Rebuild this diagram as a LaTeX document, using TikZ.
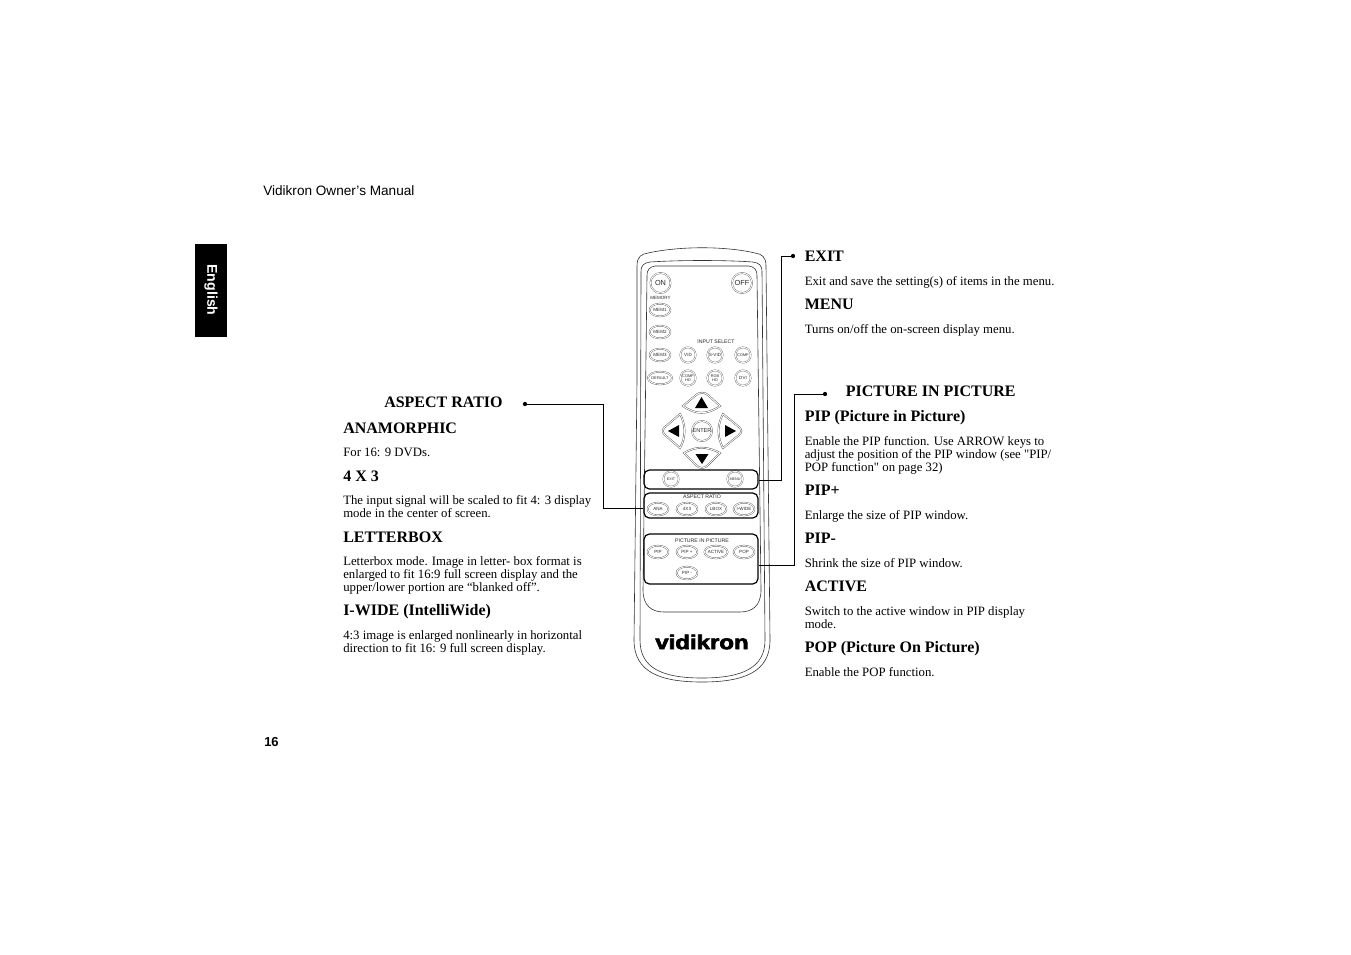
\documentclass[tikz,border=0pt]{standalone}
\usepackage{fontspec}
\setmainfont{Liberation Serif}
\setsansfont{Liberation Sans}
\newfontfamily\straightfont{Liberation Serif}
\newfontfamily\logofont{Liberation Sans}[BoldFeatures={FakeBold=3}]
\usetikzlibrary{positioning,shapes.geometric}

\begin{document}
\begin{tikzpicture}[x=0.75pt, y=-0.75pt,
  head/.style={anchor=base west, inner sep=0pt, font=\fontsize{12}{13}\selectfont\bfseries},
  body/.style={anchor=base west, inner sep=0pt, align=left, font=\fontsize{9.58}{9.75}\selectfont},
  small/.style={inner sep=0pt, font=\sffamily\fontsize{3.4}{3.6}\selectfont, text=black!85, align=center},
  btn/.style={small, ellipse, draw=black!70, double, double distance=0.7pt, line width=0.25pt, minimum width=15.5pt, minimum height=9.5pt},
  rbtn/.style={small, circle, draw=black!70, double, double distance=0.7pt, line width=0.25pt, minimum size=11.5pt},
  keyshape/.style={draw=black!70, double, double distance=0.7pt, line width=0.3pt},
  panel/.style={draw=black, line width=0.9pt, rounded corners=4pt},
  shell/.style={draw=black!80, line width=0.45pt},
  lead/.style={draw=black, line width=0.75pt},
  bullet/.style={circle, fill=black, inner sep=0pt, minimum size=3.2pt}]
\useasboundingbox (0,0) rectangle (1351,954);
% page furniture
\node[anchor=base west, inner sep=0pt, font=\sffamily\fontsize{10.2}{11}\selectfont] (title) at (263,195) {Vidikron Owner’s Manual};
\node[anchor=base west, inner sep=0pt, font=\sffamily\bfseries\fontsize{9.75}{10}\selectfont] (page) at (264,746) {16};
\node[fill=black, minimum width=24pt, minimum height=69.75pt, inner sep=0pt] (tab) at (211,290.5) {};
\node[rotate=-90, text=white, inner sep=0pt, font=\sffamily\bfseries\fontsize{10.6}{11}\selectfont] (lang) at (211,290) {English};
% remote body
\draw[shell] (637,380) -- (637,266) .. controls (637,256) and (642,254) .. (648,253) .. controls (680,246) and (725,246) .. (755,253) .. controls (762,254) and (766,257) .. (766,266) -- (770,640) .. controls (770,672) and (744,682) .. (702,682) .. controls (660,682) and (634,672) .. (634,640) -- cycle;
\draw[shell] (641,272) .. controls (641,265) and (644,263) .. (650,262) .. controls (680,260) and (725,260) .. (753,262) .. controls (759,263) and (762,265) .. (762,272) -- (765,640) .. controls (765,668) and (742,678) .. (702,678) .. controls (662,678) and (640,668) .. (640,640) -- cycle;
\draw[shell] (647,276) .. controls (647,269) and (650,267) .. (655,266) -- (749,266) .. controls (754,267) and (757,269) .. (757,276) -- (761,590) .. controls (761,606) and (752,612) .. (740,612) -- (664,612) .. controls (652,612) and (643,606) .. (643,590) -- cycle;
% buttons
\node[rbtn, minimum size=15pt, font=\sffamily\fontsize{5.5}{6}\selectfont] (bon) at (660.5,283) {ON};
\node[rbtn, minimum size=15pt, font=\sffamily\fontsize{5.5}{6}\selectfont] (boff) at (742,283) {OFF};
\node[small] (lmem) at (660.5,298) {MEMORY};
\node[small, font=\sffamily\fontsize{3.9}{4}\selectfont] (linput) at (716,342) {INPUT SELECT};
\foreach \name/\x/\y/\txt in {mema/660/310/MEM1, memb/660/332/MEM2, memc/660/355/MEM3,
    ana/658/509/ANA, fxt/687/509/4X3, lbox/716/509/LBOX, iwide/744/509/I-WIDE,
    pip/658/552/PIP, pipp/687/552/PIP +, actv/716/552/ACTIVE, pop/744/552/POP, pipm/687/573/PIP -}
  \node[btn] (\name) at (\x,\y) {\txt};
\node[btn, font=\sffamily\fontsize{2.9}{3}\selectfont] (dflt) at (660,378) {DEFAULT};
\foreach \name/\x/\y/\txt in {vid/688/355/VID, svid/715/355/S-VID, dvi/743/378/DVI}
  \node[rbtn] (\name) at (\x,\y) {\txt};
\foreach \name/\x/\y/\txt in {comp/743/355/COMP, comph/688/378/{COMP\\HD}, rgbh/715/378/{RGB\\HD}}
  \node[rbtn, font=\sffamily\fontsize{2.9}{3.2}\selectfont] (\name) at (\x,\y) {\txt};
\foreach \name/\x/\txt in {bexit/671/EXIT, bmenu/735/MENU}
  \node[rbtn, font=\sffamily\fontsize{2.8}{3}\selectfont] (\name) at (\x,479) {\txt};
\node[rbtn, minimum size=15pt, font=\sffamily\fontsize{4.2}{4.5}\selectfont] (enter) at (702,431) {ENTER};
% arrow keys
\draw[keyshape] (683,406) -- (696,395) .. controls (700,392) and (704,392) .. (708,395) -- (720,406) .. controls (707,415) and (696,415) .. (683,406) -- cycle;
\draw[keyshape] (684,453) .. controls (696,446) and (707,446) .. (720,453) -- (708,465) .. controls (704,469) and (700,469) .. (696,465) -- cycle;
\draw[keyshape] (680,414) -- (665,427) .. controls (662,430) and (662,432) .. (665,435) -- (680,448) .. controls (686,437) and (686,425) .. (680,414) -- cycle;
\draw[keyshape] (723,414) -- (739,427) .. controls (742,430) and (742,432) .. (739,435) -- (723,448) .. controls (717,437) and (717,425) .. (723,414) -- cycle;
\fill (701.5,397) -- (708,408) -- (695,408) -- cycle;
\fill (702,464) -- (708.5,454) -- (695.5,454) -- cycle;
\fill (668,431) -- (679,425) -- (679,437) -- cycle;
\fill (736,431) -- (725,425) -- (725,437) -- cycle;
% panels on the remote
\node[panel, minimum width=85.5pt, minimum height=14.25pt, inner sep=0pt] (pmenu) at (701,479.5) {};
\node[panel, minimum width=85.5pt, minimum height=18.75pt, inner sep=0pt] (paspect) at (701,505.5) {};
\node[panel, minimum width=85.5pt, minimum height=37.5pt, inner sep=0pt] (ppip) at (701,559) {};
\node[small, font=\sffamily\fontsize{3.9}{4}\selectfont] (laspect) at (702,497) {ASPECT RATIO};
\node[small, font=\sffamily\fontsize{3.9}{4}\selectfont] (lpip) at (702,541) {PICTURE IN PICTURE};
\node[inner sep=0pt, xscale=1.2, font=\logofont\bfseries\fontsize{15}{16}\selectfont] (logo) at (702,642) {vidikron};
% callouts
\node[bullet] (dexit) at (793,256) {};
\node[bullet] (dpip) at (825,394) {};
\node[bullet] (daspect) at (525,404) {};
\coordinate (kexit) at (781,256);
\coordinate (kpip) at (794,394);
\coordinate (kaspect) at (603.5,404);
\draw[lead] (dexit) -- (kexit) |- ([yshift=-0.4pt]pmenu.east);
\draw[lead] (dpip) -- (kpip) |- ([yshift=-4.5pt]ppip.east);
\draw[lead] (daspect) -- (kaspect) |- ([yshift=-2.6pt]paspect.west);
% left column
\node[head] (taspect) at (384,407) {ASPECT RATIO};
\node[head] (tana) at (343,433) {ANAMORPHIC};
\node[body] (xana) at (343,456) {For 16: 9 DVDs.};
\node[head] (tfxt) at (343,481) {4 X 3};
\node[body] (xfxt) at (343,517) {The input signal will be scaled to fit 4: 3 display\\mode in the center of screen.};
\node[head] (tlbox) at (343,542) {LETTERBOX};
\node[body] (xlbox) at (343,591) {Letterbox mode. Image in letter- box format is\\enlarged to fit 16:9 full screen display and the\\upper/lower portion are “blanked off”.};
\node[head] (twide) at (343,615) {I-WIDE (IntelliWide)};
\node[body] (xwide) at (343,652) {4:3 image is enlarged nonlinearly in horizontal\\direction to fit 16: 9 full screen display.};
% right column
\node[head] (texit) at (804.5,261) {EXIT};
\node[body] (xexit) at (804.5,285) {Exit and save the setting(s) of items in the menu.};
\node[head] (tmenu) at (804.5,309) {MENU};
\node[body] (xmenu) at (804.5,333) {Turns on/off the on-screen display menu.};
\node[head] (tpicture) at (845.5,396) {PICTURE IN PICTURE};
\node[head] (tpip) at (804.5,421) {PIP (Picture in Picture)};
\node[body] (xpip) at (804.5,471) {Enable the PIP function. Use ARROW keys to\\adjust the position of the PIP window (see {\straightfont "}PIP/\\POP function{\straightfont "} on page 32)};
\node[head] (tpipp) at (804.5,495) {PIP+};
\node[body] (xpipp) at (804.5,519) {Enlarge the size of PIP window.};
\node[head] (tpipm) at (804.5,543) {PIP-};
\node[body] (xpipm) at (804.5,567) {Shrink the size of PIP window.};
\node[head] (tactv) at (804.5,591) {ACTIVE};
\node[body] (xactv) at (804.5,628) {Switch to the active window in PIP display\\mode.};
\node[head] (tpop) at (804.5,652) {POP (Picture On Picture)};
\node[body] (xpop) at (804.5,676) {Enable the POP function.};
\end{tikzpicture}
\end{document}
